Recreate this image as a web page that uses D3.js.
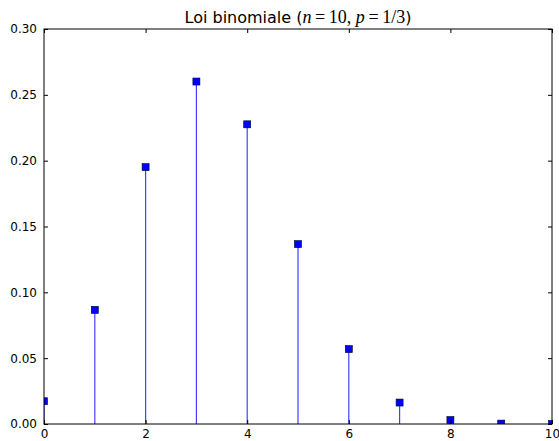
<!DOCTYPE html>
<html lang="en">
<head>
<meta charset="UTF-8">
<title>Loi binomiale</title>
<script src="https://d3js.org/d3.v7.min.js"></script>
<style>
  body { margin: 0; background: #fff; }
  text { font-family: "DejaVu Sans", sans-serif; }
</style>
</head>
<body>
<div id="chart"></div>
<script>
// values
const ks = [0, 1, 2, 3, 4, 5, 6, 7, 8, 9, 10];
const probs = [0.0173, 0.0867, 0.1951, 0.2601, 0.2276, 0.1366, 0.0569, 0.0163, 0.0030, 0.0003, 0.00002];
const xTicks = [0, 2, 4, 6, 8, 10];
const yTicks = [0, 0.05, 0.10, 0.15, 0.20, 0.25, 0.30];

const W = 559, H = 441;
const margin = { top: 29, right: 7, bottom: 17, left: 44 };
const width = W - margin.left - margin.right;
const height = H - margin.top - margin.bottom;

const svg = d3.select("#chart").append("svg")
    .attr("width", W)
    .attr("height", H);

const g = svg.append("g")
    .attr("transform", `translate(${margin.left},${margin.top})`);

const x = d3.scaleLinear().domain([0, 10]).range([0, width]);
const y = d3.scaleLinear().domain([0, 0.3]).range([height, 0]);

g.append("clipPath").attr("id", "clip")
  .append("rect").attr("width", width).attr("height", height);

const plot = g.append("g").attr("clip-path", "url(#clip)");

// stems
plot.selectAll(".stem")
  .data(ks)
  .enter().append("line")
    .attr("class", "stem")
    .attr("x1", d => x(d)).attr("x2", d => x(d))
    .attr("y1", y(0)).attr("y2", (d, i) => y(probs[i]))
    .attr("stroke", "#0000ff")
    .attr("stroke-opacity", 0.75)
    .attr("stroke-width", 1.2);

// markers
const ms = 7;
plot.selectAll(".mark")
  .data(ks)
  .enter().append("rect")
    .attr("class", "mark")
    .attr("x", d => x(d) - ms / 2)
    .attr("y", (d, i) => y(probs[i]) - ms / 2)
    .attr("width", ms).attr("height", ms)
    .attr("fill", "#0000ff")
    .attr("stroke", "#000033")
    .attr("stroke-width", 0.6);

// axes, ticks pointing inward (matplotlib classic)
const fmtY = d3.format(".2f");
g.append("g")
  .attr("transform", `translate(0,${height})`)
  .call(d3.axisBottom(x).tickValues(xTicks).tickSizeInner(-4).tickSizeOuter(0).tickPadding(5).tickFormat(d3.format("d")))
  .call(a => a.select(".domain").remove());
g.append("g")
  .call(d3.axisTop(x).tickValues(xTicks).tickSizeInner(-4).tickSizeOuter(0).tickFormat(""))
  .call(a => a.select(".domain").remove());
g.append("g")
  .call(d3.axisLeft(y).tickValues(yTicks).tickSizeInner(-4).tickSizeOuter(0).tickPadding(7).tickFormat(fmtY))
  .call(a => a.select(".domain").remove());
g.append("g")
  .attr("transform", `translate(${width},0)`)
  .call(d3.axisRight(y).tickValues(yTicks).tickSizeInner(-4).tickSizeOuter(0).tickFormat(""))
  .call(a => a.select(".domain").remove());

g.selectAll(".tick text")
  .attr("fill", "#000")
  .style("font-size", "12px")
  .style("font-family", "'DejaVu Sans', sans-serif");
g.selectAll(".tick line").attr("stroke", "#000");

// frame
g.append("rect")
  .attr("width", width).attr("height", height)
  .attr("fill", "none").attr("stroke", "#000").attr("stroke-width", 1);

// title
const title = svg.append("text")
  .attr("x", margin.left + width / 2)
  .attr("y", 23)
  .attr("text-anchor", "middle")
  .style("font-size", "16px");
const serif = "'Liberation Serif', serif";
title.append("tspan").text("Loi binomiale (");
title.append("tspan").style("font-family", serif).style("font-style", "italic").style("font-size", "18px").text("n");
title.append("tspan").style("font-family", serif).style("font-size", "18px").text("\u2009=\u200910, ");
title.append("tspan").style("font-family", serif).style("font-style", "italic").style("font-size", "18px").text("p");
title.append("tspan").style("font-family", serif).style("font-size", "18px").text("\u2009=\u20091/3");
title.append("tspan").text(")");
</script>
</body>
</html>
